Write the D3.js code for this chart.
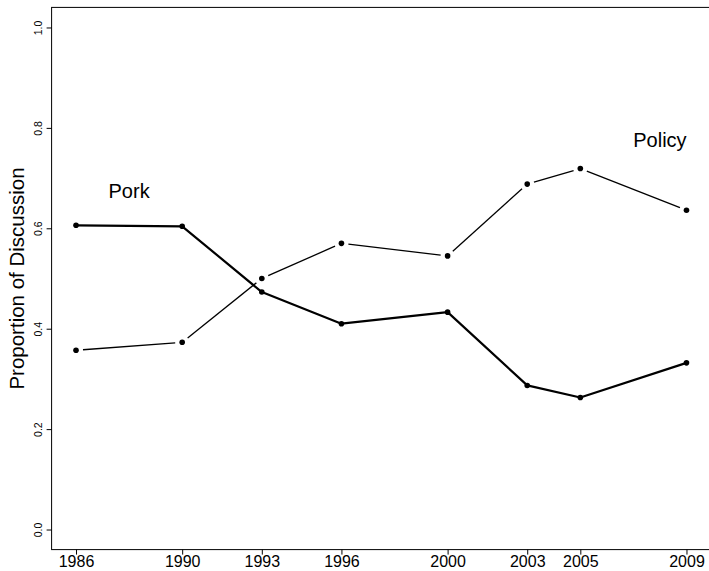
<!DOCTYPE html>
<html>
<head>
<meta charset="utf-8">
<script src="https://cdn.jsdelivr.net/npm/d3@7/dist/d3.min.js"></script>
<style>
  html, body { margin: 0; padding: 0; background: #fff; }
  svg { display: block; font-family: "Liberation Sans", Arial, Helvetica, sans-serif; }
</style>
</head>
<body>
<svg id="chart" width="709" height="571"></svg>
<script>
// Share of floor discussion by theme, by election year
const years = [1986, 1990, 1993, 1996, 2000, 2003, 2005, 2009];
const pork = [0.606, 0.604, 0.473, 0.410, 0.433, 0.287, 0.263, 0.332];
const policy = [0.357, 0.373, 0.500, 0.570, 0.545, 0.688, 0.719, 0.636];
const yTicks = [0.0, 0.2, 0.4, 0.6, 0.8, 1.0];
const seriesNames = ["Pork", "Policy"];

const svg = d3.select("#chart");

// R-style 4% padding around the data range
const xPad = (d3.max(years) - d3.min(years)) * 0.04;
const yPad = 0.04;
const x = d3.scaleLinear()
  .domain([d3.min(years) - xPad, d3.max(years) + xPad])
  .range([51.6, 710.9]);
const y = d3.scaleLinear()
  .domain([0 - yPad, 1 + yPad])
  .range([549.6, 7.4]);

// Plot frame
svg.append("rect")
  .attr("x", x.range()[0]).attr("y", y.range()[1])
  .attr("width", x.range()[1] - x.range()[0])
  .attr("height", y.range()[0] - y.range()[1])
  .attr("fill", "none").attr("stroke", "#000").attr("stroke-width", 1);

// Bottom axis
const xAxis = svg.append("g")
  .attr("transform", `translate(0,${y.range()[0]})`)
  .call(d3.axisBottom(x).tickValues(years).tickFormat(d3.format("d")).tickSize(5).tickPadding(1));
xAxis.select(".domain").remove();
xAxis.selectAll("line").attr("stroke", "#000");
xAxis.selectAll("text")
  .attr("font-size", 16).attr("font-family", null).attr("fill", "#000");

// Left axis with rotated labels
const yAxis = svg.append("g")
  .attr("transform", `translate(${x.range()[0]},0)`)
  .call(d3.axisLeft(y).tickValues(yTicks).tickFormat(d3.format(".1f")).tickSize(5));
yAxis.select(".domain").remove();
yAxis.selectAll("line").attr("stroke", "#000");
yAxis.selectAll("text")
  .attr("font-size", 10.5).attr("font-family", null).attr("fill", "#000")
  .attr("text-anchor", "middle")
  .attr("x", 0).attr("y", -10).attr("dy", 0)
  .attr("transform", "rotate(-90)");

// Axis title
svg.append("text")
  .attr("transform", `translate(24,${(y.range()[0] + y.range()[1]) / 2}) rotate(-90)`)
  .attr("text-anchor", "middle")
  .attr("font-size", 20.5)
  .text("Proportion of Discussion");

const porkPts = years.map((yr, i) => [x(yr), y(pork[i])]);
const policyPts = years.map((yr, i) => [x(yr), y(policy[i])]);

// Pork: heavier connected line running through the points
svg.append("path")
  .attr("d", d3.line()(porkPts))
  .attr("fill", "none").attr("stroke", "#000").attr("stroke-width", 2.2)
  .attr("stroke-linejoin", "round");

// Policy: thin line with gaps around each point
const gap = 7;
const segs = d3.pairs(policyPts).map(([a, b]) => {
  const dx = b[0] - a[0], dy = b[1] - a[1];
  const len = Math.hypot(dx, dy);
  const ux = dx / len, uy = dy / len;
  return [[a[0] + ux * gap, a[1] + uy * gap], [b[0] - ux * gap, b[1] - uy * gap]];
});
svg.append("g").selectAll("line").data(segs).join("line")
  .attr("x1", d => d[0][0]).attr("y1", d => d[0][1])
  .attr("x2", d => d[1][0]).attr("y2", d => d[1][1])
  .attr("stroke", "#000").attr("stroke-width", 1.3);

// Points
svg.append("g").selectAll("circle").data(porkPts.concat(policyPts)).join("circle")
  .attr("cx", d => d[0]).attr("cy", d => d[1]).attr("r", 2.8).attr("fill", "#000");

// Series labels
const labelAt = [[1988, 0.675], [2008, 0.775]];
svg.append("g").selectAll("text").data(seriesNames).join("text")
  .attr("x", (d, i) => x(labelAt[i][0]))
  .attr("y", (d, i) => y(labelAt[i][1]))
  .attr("dy", "0.35em")
  .attr("text-anchor", "middle")
  .attr("font-size", 20)
  .text(d => d);
</script>
</body>
</html>
